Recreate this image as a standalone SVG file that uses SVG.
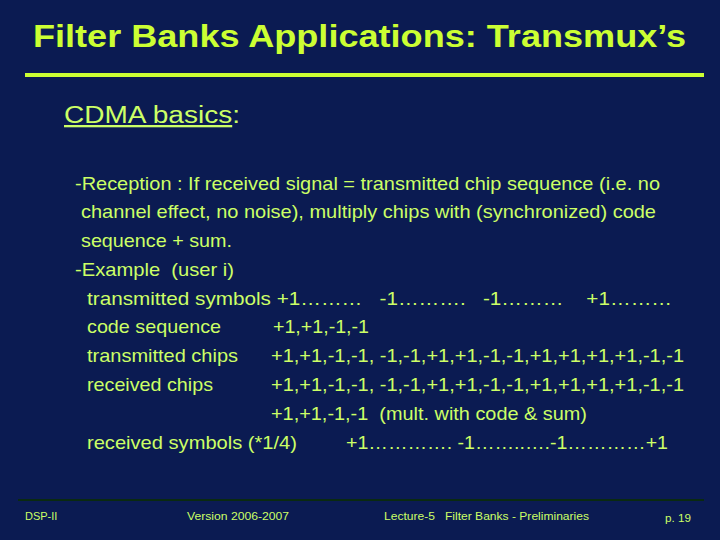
<svg xmlns="http://www.w3.org/2000/svg" width="720" height="540" viewBox="0 0 720 540">
<style>
text{font-family:"Liberation Sans",Arial,sans-serif;fill:#ccff66;white-space:pre}
.t{font-size:32px;font-weight:bold;fill:#ccff33}
.b{font-size:19px}
.f{font-size:11px}
</style>
<rect width="720" height="540" fill="#0b1b52"/>
<text class="t" x="33" y="47" textLength="653" lengthAdjust="spacingAndGlyphs">Filter Banks Applications: Transmux’s</text>
<rect x="25" y="73" width="679" height="4" fill="#ccff33"/>
<text x="64" y="123" style="font-size:23px" textLength="176" lengthAdjust="spacingAndGlyphs"><tspan text-decoration="underline">CDMA basics</tspan>:</text>
<g id="body">
<text class="b" x="75" y="190" textLength="585" lengthAdjust="spacingAndGlyphs">-Reception : If received signal = transmitted chip sequence (i.e. no</text>
<text class="b" x="81" y="218" textLength="575" lengthAdjust="spacingAndGlyphs">channel effect, no noise), multiply chips with (synchronized) code</text>
<text class="b" x="81" y="247" textLength="151" lengthAdjust="spacingAndGlyphs">sequence + sum.</text>
<text class="b" x="75" y="276" textLength="159" lengthAdjust="spacingAndGlyphs">-Example  (user i)</text>
<text class="b" x="87" y="305" textLength="585" lengthAdjust="spacingAndGlyphs">transmitted symbols +1………   -1……….   -1………    +1………</text>
<text class="b" x="87" y="333" textLength="134" lengthAdjust="spacingAndGlyphs">code sequence</text>
<text class="b" x="273" y="333" textLength="96" lengthAdjust="spacingAndGlyphs">+1,+1,-1,-1</text>
<text class="b" x="87" y="362" textLength="151" lengthAdjust="spacingAndGlyphs">transmitted chips</text>
<text class="b" x="271" y="362" textLength="413" lengthAdjust="spacingAndGlyphs">+1,+1,-1,-1, -1,-1,+1,+1,-1,-1,+1,+1,+1,+1,-1,-1</text>
<text class="b" x="87" y="391" textLength="126" lengthAdjust="spacingAndGlyphs">received chips</text>
<text class="b" x="271" y="391" textLength="413" lengthAdjust="spacingAndGlyphs">+1,+1,-1,-1, -1,-1,+1,+1,-1,-1,+1,+1,+1,+1,-1,-1</text>
<text class="b" x="271" y="420" textLength="316" lengthAdjust="spacingAndGlyphs">+1,+1,-1,-1  (mult. with code &amp; sum)</text>
<text class="b" x="87" y="449" textLength="210" lengthAdjust="spacingAndGlyphs">received symbols (*1/4)</text>
<text class="b" x="346" y="449" textLength="322" lengthAdjust="spacingAndGlyphs">+1…………. -1……..….-1…………+1</text>
</g>
<rect x="18" y="499" width="686" height="2" fill="#0a2a10"/>
<text class="f" x="25" y="520">DSP-II</text>
<text class="f" x="187" y="520" textLength="102" lengthAdjust="spacingAndGlyphs">Version 2006-2007</text>
<text class="f" x="384" y="520" textLength="205" lengthAdjust="spacingAndGlyphs">Lecture-5   Filter Banks - Preliminaries</text>
<text class="f" x="665" y="522" textLength="26" lengthAdjust="spacingAndGlyphs">p. 19</text>
</svg>
